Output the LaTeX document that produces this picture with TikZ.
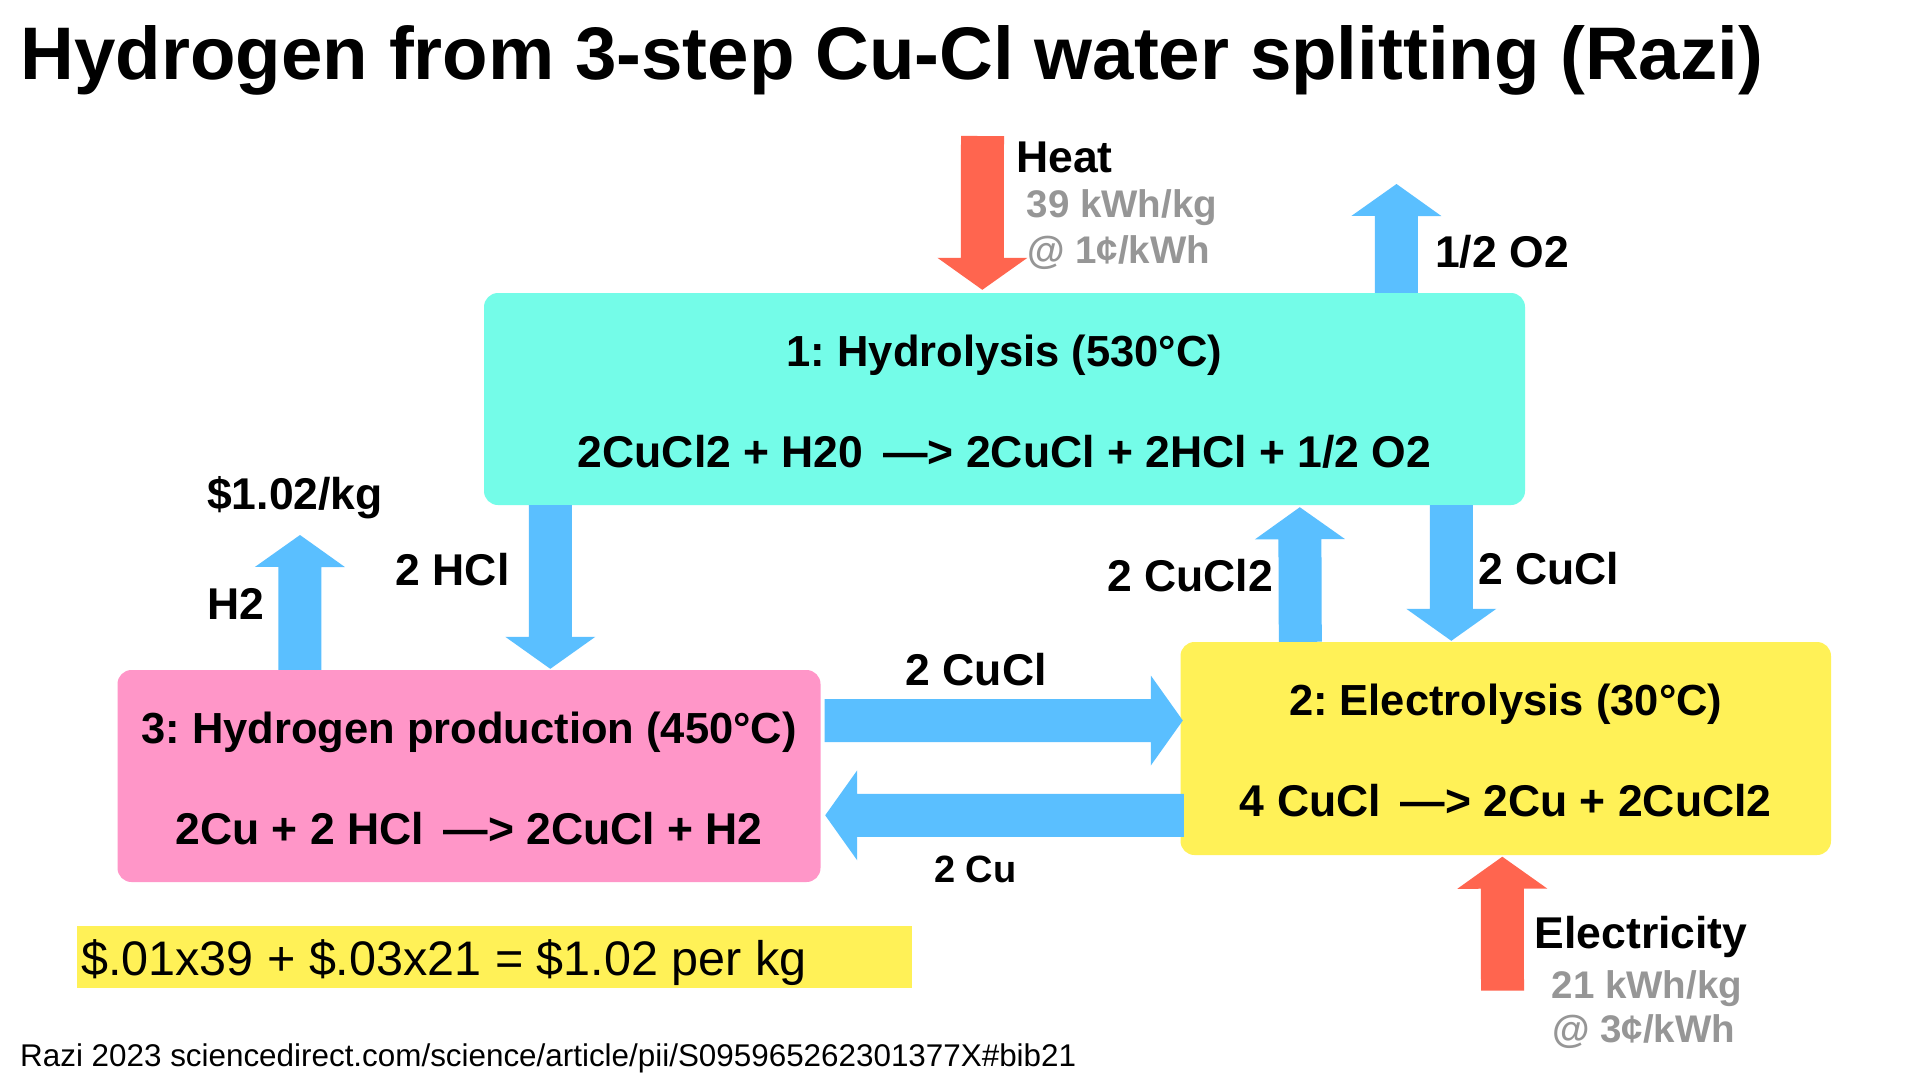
\documentclass[tikz,border=0pt]{standalone}
\usepackage{fontspec}
\setmainfont{Liberation Sans}
\frenchspacing
\usetikzlibrary{calc}
\definecolor{cyanc}{HTML}{74FCE8}
\definecolor{pinkc}{HTML}{FF96C8}
\definecolor{yellowc}{HTML}{FFF157}
\definecolor{bluec}{HTML}{5ABFFF}
\definecolor{redc}{HTML}{FF654F}
\definecolor{grayc}{HTML}{969696}
\tikzset{
  box/.style={rounded corners=14pt, inner sep=0pt, draw=none},
  lbl/.style={font=\fontsize{44.5}{52}\selectfont\bfseries, inner sep=0pt, anchor=base west},
  gry/.style={font=\fontsize{38.5}{46}\selectfont\bfseries, text=grayc, inner sep=0pt, anchor=base west},
  btxtA/.style={font=\fontsize{43.5}{50}\selectfont\bfseries, inner sep=0pt, anchor=base},
  btxtB/.style={font=\fontsize{44.5}{52}\selectfont\bfseries, inner sep=0pt, anchor=base},
  barrow/.style={fill=#1, to path={
    ($(\tikztotarget)!32pt!(\tikztostart)$) coordinate (bahb)
    ($(\tikztostart)!21.5pt!90:(\tikztotarget)$) --
    ($(bahb)!21.5pt!90:(\tikztotarget)$) --
    ($(bahb)!45pt!90:(\tikztotarget)$) --
    (\tikztotarget) --
    ($(bahb)!45pt!-90:(\tikztotarget)$) --
    ($(bahb)!21.5pt!-90:(\tikztotarget)$) --
    ($(\tikztostart)!21.5pt!-90:(\tikztotarget)$) -- cycle}},
}
\begin{document}
\begin{tikzpicture}[x=1pt,y=-1pt]
\useasboundingbox (0,0) rectangle (1920,1080);
\fill[white] (0,0) rectangle (1920,1080);

% title
\node[font=\fontsize{74.5}{86}\selectfont\bfseries, inner sep=0pt, anchor=base west] (title) at (20.5,79) {Hydrogen from 3-step Cu-Cl water splitting (Razi)};

% boxes
\node[box, fill=cyanc, minimum width=1041pt, minimum height=212pt] (hyd) at (1004.5,399) {};
\node[box, fill=pinkc, minimum width=703pt, minimum height=212pt] (prod) at (469,776) {};
\node[box, fill=yellowc, minimum width=650.5pt, minimum height=213pt] (elec) at (1505.75,748.5) {};

\node[btxtA] (hydA) at ([yshift=33pt]hyd.center) {1: Hydrolysis (530°C)};
\node[btxtB] (hydB) at ([yshift=-68pt]hyd.center) {2CuCl2 + H20 \,—> 2CuCl + 2HCl + 1/2 O2};
\node[btxtA] (prodA) at ([yshift=33pt]prod.center) {3: Hydrogen production (450°C)};
\node[btxtB] (prodB) at ([yshift=-68pt]prod.center) {2Cu + 2 HCl \,—> 2CuCl + H2};
\node[btxtA] (elecA) at ([yshift=33pt]elec.center) {2: Electrolysis (30°C)};
\node[btxtB] (elecB) at ([yshift=-68pt]elec.center) {4 CuCl \,—> 2Cu + 2CuCl2};

% arrow end points
\coordinate (heatS) at (982.5,136);
\coordinate (heatT) at ([xshift=498.5pt,yshift=3pt]hyd.north west);
\coordinate (o2S) at ([xshift=912.5pt]hyd.north west);
\coordinate (o2T) at (1396.5,184);
\coordinate (h2S) at ([xshift=182.5pt]prod.north west);
\coordinate (h2T) at (300,535);
\coordinate (hclS) at ([xshift=66.5pt]hyd.south west);
\coordinate (hclT) at ([xshift=433pt,yshift=1pt]prod.north west);
\coordinate (cucltwoS) at ([xshift=120pt]elec.north west);
\coordinate (cucltwoT) at ([xshift=816pt,yshift=-2pt]hyd.south west);
\coordinate (cuclS) at ([xshift=967.5pt]hyd.south west);
\coordinate (cuclT) at ([xshift=271pt,yshift=1pt]elec.north west);
\coordinate (cuclrS) at ([xshift=4pt,yshift=55.5pt]prod.east);
\coordinate (cuclrT) at ([xshift=2.5pt,yshift=28pt]elec.west);
\coordinate (cuS) at ([xshift=3.5pt,yshift=-66.8pt]elec.west);
\coordinate (cuT) at ([xshift=4.5pt,yshift=-39.3pt]prod.east);
\coordinate (elS) at (1502.5,990.7);
\coordinate (elT) at ([xshift=322pt,yshift=-1.5pt]elec.south west);

% block arrows
\path[barrow=redc] (heatS) to (heatT);
\path[barrow=bluec] (o2S) to (o2T);
\path[barrow=bluec] (h2S) to (h2T);
\path[barrow=bluec] (hclS) to (hclT);
\path[barrow=bluec] (cucltwoS) to (cucltwoT);
\path[barrow=bluec] (cuclS) to (cuclT);
\path[barrow=bluec] (cuclrS) to (cuclrT);
\path[barrow=bluec] (cuS) to (cuT);
\path[barrow=redc] (elS) to (elT);

% labels
\node[lbl] (heatL) at (1016,172.3) {Heat};
\node[gry] (heatE) at (1026.5,217.3) {39 kWh/kg};
\node[gry] (heatP) at (1027,263) {@ 1¢/kWh};
\node[lbl] (o2L) at (1435,267.7) {1/2 O2};
\node[lbl] (priceL) at (207,509) {\$1.02/kg};
\node[lbl] (h2L) at (207.5,619) {H2};
\node[lbl] (hclL) at (395.5,585) {2 HCl};
\node[lbl] (cuclmL) at (905.5,685.7) {2 CuCl};
\node[font=\fontsize{38}{44}\selectfont\bfseries, inner sep=0pt, anchor=base west] (cuL) at (934,882.7) {2 Cu};
\node[lbl] (cucltwoL) at (1107,591) {2 CuCl2};
\node[lbl] (cuclL) at (1478,584.3) {2 CuCl};
\node[lbl] (elL) at (1534.5,948) {Electricity};
\node[gry] (elE) at (1551.5,998) {21 kWh/kg};
\node[gry] (elP) at (1552,1042.7) {@ 3¢/kWh};

% formula
\node[fill=yellowc, inner sep=0pt, minimum width=835pt, minimum height=62pt] (hl) at (494.5,957) {};
\node[font=\fontsize{48.5}{56}\selectfont, inner sep=0pt, anchor=base west] (formula) at (81,975) {\$.01x39 + \$.03x21 = \$1.02 per kg};

% footer
\node[font=\fontsize{31.4}{36}\selectfont, inner sep=0pt, anchor=base west] (footer) at (20,1066) {Razi 2023 sciencedirect.com/science/article/pii/S095965262301377X\#bib21};
\end{tikzpicture}
\end{document}
